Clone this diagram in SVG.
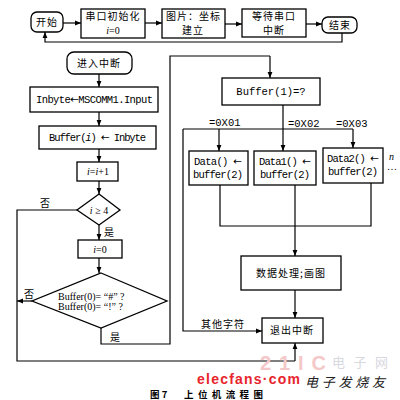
<svg xmlns="http://www.w3.org/2000/svg" width="400" height="400" viewBox="0 0 400 400">
<defs>
<marker id="ah" viewBox="0 0 10 10" refX="10" refY="5" markerWidth="6" markerHeight="6" orient="auto" markerUnits="userSpaceOnUse"><path d="M0,1 L10,5 L0,9 z" fill="#000"/></marker>
<style>
.b{fill:#fff;stroke:#000;stroke-width:1.3}
.l{fill:none;stroke:#000;stroke-width:1.2}
.a{fill:none;stroke:#000;stroke-width:1.2;marker-end:url(#ah)}
.c{font-family:"Noto Sans CJK SC","Noto Sans",sans-serif;font-size:10px;fill:#000;letter-spacing:1px}
.m{font-family:"Liberation Mono","DejaVu Sans Mono",monospace;font-size:10.5px;fill:#000}
.s{font-family:"Liberation Serif",serif;font-size:10px;fill:#000}
.r{font-family:"DejaVu Sans",sans-serif}
</style>
</defs>
<rect width="400" height="400" fill="#fff"/>
<g id="connectors">
<path class="a" d="M63,23 H81"/>
<path class="a" d="M145,23 H162"/>
<path class="a" d="M225,24 H242"/>
<path class="a" d="M306,24 H322"/>
<path class="a" d="M342,32 V42 H45 V32"/>
<path class="a" d="M99,74 V87"/>
<path class="a" d="M99,112 V126"/>
<path class="a" d="M99,149 V162"/>
<path class="a" d="M99,181 V194"/>
<path class="a" d="M99,225 V240"/>
<path class="a" d="M99,258 V273"/>
<path class="l" d="M77,210 H17 V361 H295"/>
<path class="a" d="M295,361 V343"/>
<path class="a" d="M32,301 H17"/>
<path class="l" d="M101,328 V344 H170 V56 H270"/>
<path class="a" d="M270,56 V78"/>
<path class="l" d="M283,105 V129"/>
<path class="l" d="M183,129 H353"/>
<path class="a" d="M219,129 V151"/>
<path class="a" d="M283,129 V151"/>
<path class="a" d="M353,129 V148"/>
<path class="a" d="M183,129 V331 H262"/>
<path class="l" d="M220,185 V226 H371 V183"/>
<path class="l" d="M295,185 V226"/>
<path class="a" d="M295,226 V256"/>
<path class="a" d="M295,290 V318"/>
</g>
<g id="start"><rect class="b" x="31" y="12" width="32" height="20" rx="6"/><text class="c" x="47" y="26" text-anchor="middle">开始</text></g>
<g id="init"><rect class="b" x="81" y="9" width="64" height="29"/><text class="c" x="113" y="20" text-anchor="middle">串口初始化</text><text class="s" x="113" y="34" text-anchor="middle"><tspan font-style="italic">i</tspan>=0</text></g>
<g id="pic"><rect class="b" x="162" y="9" width="63" height="29"/><text class="c" x="166" y="20">图片：坐标</text><text class="c" x="193" y="34" text-anchor="middle">建立</text></g>
<g id="wait"><rect class="b" x="242" y="9" width="64" height="28"/><text class="c" x="274" y="20" text-anchor="middle">等待串口</text><text class="c" x="274" y="34" text-anchor="middle">中断</text></g>
<g id="end"><rect class="b" x="322" y="17" width="35" height="16" rx="6"/><text class="c" x="340" y="29" text-anchor="middle">结束</text></g>
<g id="enter"><rect class="b" x="67" y="52" width="65" height="22" rx="7"/><text class="c" x="99" y="67" text-anchor="middle">进入中断</text></g>
<g id="inbyte"><rect class="b" x="30" y="87" width="128" height="25"/><text class="m" x="36" y="103" textLength="117">Inbyte<tspan class="r">←</tspan>MSCOMM1.Input</text></g>
<g id="buf"><rect class="b" x="39" y="126" width="117" height="23"/><text class="m" x="49" y="141" textLength="97">Buffer(<tspan font-style="italic">i</tspan>) <tspan class="r">←</tspan> Inbyte</text></g>
<g id="inc"><rect class="b" x="77" y="162" width="41" height="19"/><text class="s" x="98" y="175" text-anchor="middle"><tspan font-style="italic">i</tspan>=<tspan font-style="italic">i</tspan>+1</text></g>
<g id="cond1"><path class="b" d="M99,194 L120,210 L99,225 L77,210 Z"/><text class="s" x="99" y="214" text-anchor="middle"><tspan font-style="italic">i</tspan> ≥ 4</text><text class="c" x="40" y="207">否</text><text class="c" x="104" y="236">是</text></g>
<g id="reset"><rect class="b" x="78" y="240" width="44" height="18"/><text class="s" x="100" y="253" text-anchor="middle"><tspan font-style="italic">i</tspan>=0</text></g>
<g id="cond2"><path class="b" d="M101,273 L167,301 L101,328 L32,301 Z"/><text class="s" x="58" y="300">Buffer(0)=  “#”  ?</text><text class="s" x="58" y="310">Buffer(0)=  “!”  ?</text><text class="c" x="24" y="298">否</text><text class="c" x="110" y="341">是</text></g>
<g id="buf1"><rect class="b" x="222" y="78" width="98" height="27"/><text class="m" x="271" y="95" text-anchor="middle">Buffer(1)=?</text></g>
<g id="labels"><text class="m" x="209" y="126">=0X01</text><text class="m" x="288" y="127">=0X02</text><text class="m" x="336" y="127">=0X03</text><text class="s" x="389" y="160" font-style="italic">n</text><text class="s" x="387" y="170">…</text><text class="c" x="201" y="328">其他字符</text></g>
<g id="data0"><rect class="b" x="189" y="151" width="59" height="34"/><text class="m" x="218" y="165" text-anchor="middle" textLength="48">Data() <tspan class="r">←</tspan></text><text class="m" x="218" y="178" text-anchor="middle" textLength="50">buffer(2)</text></g>
<g id="data1"><rect class="b" x="254" y="151" width="62" height="34"/><text class="m" x="285" y="165" text-anchor="middle" textLength="52">Data1() <tspan class="r">←</tspan></text><text class="m" x="285" y="178" text-anchor="middle" textLength="50">buffer(2)</text></g>
<g id="data2"><rect class="b" x="323" y="148" width="60" height="35"/><text class="m" x="353" y="162" text-anchor="middle" textLength="52">Data2() <tspan class="r">←</tspan></text><text class="m" x="353" y="175" text-anchor="middle" textLength="50">buffer(2)</text></g>
<g id="proc"><rect class="b" x="241" y="256" width="100" height="34"/><text class="c" x="291" y="277" text-anchor="middle">数据处理;画图</text></g>
<g id="exit"><rect class="b" x="262" y="318" width="61" height="25"/><text class="c" x="292" y="334" text-anchor="middle">退出中断</text></g>
<g id="watermark">
<text x="260" y="370" font-family="Liberation Sans,sans-serif" font-weight="bold" font-size="20" fill="#f4c8c8" textLength="66">21IC</text>
<text x="332" y="367" font-family="Noto Sans CJK SC,sans-serif" font-size="13" fill="#d8d8e0" textLength="56">电子网</text>
<text x="197" y="384" font-family="Liberation Sans,sans-serif" font-weight="bold" font-size="14" fill="#e8242c" textLength="103">elecfans·com</text>
<text x="305" y="387" font-family="Noto Sans CJK SC,sans-serif" font-style="italic" font-size="13" fill="#222" textLength="80">电子发烧友</text>
</g>
<g id="caption"><text x="150" y="398" font-family="Noto Sans CJK SC,sans-serif" font-weight="bold" font-size="9.5">图 7</text><text x="184" y="398" font-family="Noto Sans CJK SC,sans-serif" font-weight="bold" font-size="9.5" textLength="79">上位机流程图</text></g>
</svg>
